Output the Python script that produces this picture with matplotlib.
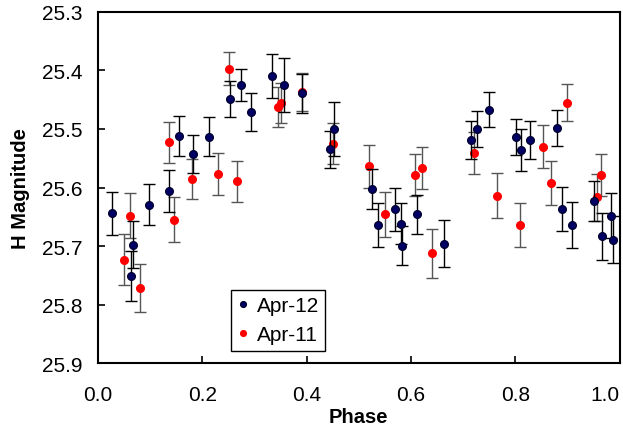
import numpy as np
import matplotlib.pyplot as plt

plt.rcParams['font.family'] = ['Liberation Sans', 'DejaVu Sans']

# Apr-12 (blue)
ph12 = [0.028, 0.064, 0.068, 0.098, 0.136, 0.155, 0.183, 0.213, 0.254, 0.275, 0.293,
        0.334, 0.356, 0.391, 0.444, 0.452, 0.525, 0.537, 0.569, 0.581, 0.583, 0.611,
        0.663, 0.715, 0.727, 0.750, 0.801, 0.811, 0.827, 0.880, 0.889, 0.908, 0.951,
        0.965, 0.983, 0.987]
mag12 = [25.644, 25.751, 25.698, 25.629, 25.606, 25.512, 25.543, 25.513, 25.449, 25.425, 25.471,
         25.410, 25.425, 25.439, 25.535, 25.500, 25.603, 25.664, 25.637, 25.662, 25.699, 25.646,
         25.696, 25.519, 25.500, 25.467, 25.514, 25.536, 25.519, 25.498, 25.637, 25.664, 25.623,
         25.683, 25.648, 25.689]
err12 = [0.037, 0.043, 0.040, 0.035, 0.036, 0.034, 0.033, 0.033, 0.031, 0.028, 0.032,
         0.038, 0.046, 0.033, 0.032, 0.046, 0.034, 0.038, 0.037, 0.035, 0.034, 0.033,
         0.040, 0.032, 0.030, 0.030, 0.031, 0.036, 0.033, 0.031, 0.038, 0.040, 0.034,
         0.040, 0.038, 0.040]

# Apr-11 (red)
ph11 = [0.050, 0.061, 0.080, 0.136, 0.145, 0.181, 0.231, 0.252, 0.267,
        0.345, 0.351, 0.391, 0.451, 0.519, 0.551, 0.607, 0.621, 0.641,
        0.721, 0.765, 0.809, 0.853, 0.868, 0.899, 0.957, 0.964]
mag11 = [25.723, 25.648, 25.771, 25.523, 25.655, 25.586, 25.577, 25.397, 25.589,
         25.462, 25.455, 25.437, 25.525, 25.564, 25.646, 25.578, 25.567, 25.712,
         25.541, 25.614, 25.664, 25.530, 25.592, 25.455, 25.617, 25.578]
err11 = [0.044, 0.038, 0.041, 0.035, 0.038, 0.034, 0.036, 0.028, 0.035,
         0.034, 0.034, 0.033, 0.035, 0.036, 0.038, 0.036, 0.036, 0.042,
         0.036, 0.038, 0.038, 0.036, 0.037, 0.032, 0.040, 0.036]

fig = plt.figure(figsize=(6.23, 4.27), dpi=100)
ax = fig.add_axes([0.157, 0.147, 0.838, 0.823])

ax.errorbar(ph12, mag12, yerr=err12, fmt='o', color='#000066', ms=5.5, mec='#000033',
            ecolor='black', elinewidth=1, capsize=4, capthick=1, label='Apr-12', zorder=3)
ax.errorbar(ph11, mag11, yerr=err11, fmt='o', color='#ff0000', ms=5.5, mec='#ff0000',
            ecolor='#555555', elinewidth=1, capsize=4, capthick=1, label='Apr-11', zorder=2)

ax.set_xlim(0, 1.0)
ax.set_ylim(25.9, 25.3)
ax.set_xticks(np.arange(0, 1.01, 0.2))
ax.set_yticks(np.arange(25.3, 25.91, 0.1))
ax.xaxis.set_major_formatter(plt.FormatStrFormatter('%.1f'))
ax.yaxis.set_major_formatter(plt.FormatStrFormatter('%.1f'))
ax.tick_params(direction='in', length=5, width=1.2, labelsize=15)
ax.tick_params(axis='y', pad=11)
ax.tick_params(axis='x', pad=16)
ax.get_xticklabels()[-1].set_horizontalalignment('right')
for s in ax.spines.values():
    s.set_linewidth(1.5)

ax.set_xlabel('Phase', fontsize=14.5, fontweight='bold', labelpad=2)
ax.set_ylabel('H Magnitude', fontsize=14.5, fontweight='bold', labelpad=9)

h, l = ax.get_legend_handles_labels()
h = [x[0] for x in h]
leg = ax.legend(h, l, loc='lower left', bbox_to_anchor=(0.256, 0.036), fontsize=15,
                fancybox=False, edgecolor='black', framealpha=1, markerscale=0.75,
                handlelength=0.5, handletextpad=0.4, borderpad=0.3, labelspacing=0.5,
                borderaxespad=0)
leg.get_frame().set_linewidth(1)

fig.savefig('out.png', dpi=100)
